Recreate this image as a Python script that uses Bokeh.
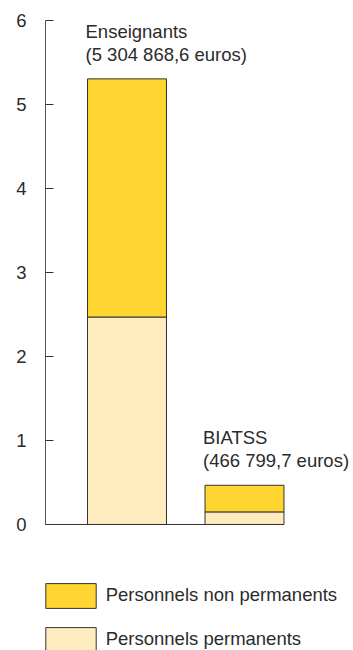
from bokeh.plotting import figure
from bokeh.models import (ColumnDataSource, Range1d, FixedTicker, Legend, LabelSet)
from bokeh.core.properties import value
from bokeh.embed import file_html
from bokeh.resources import INLINE

# Data (millions of euros)
categories = ["Enseignants", "BIATSS"]
amount_labels = ["(5 304 868,6 euros)", "(466 799,7 euros)"]
permanents = [2.47, 0.15]
non_permanents = [2.835, 0.317]
totals = [5.305, 0.467]
y_ticks = [0, 1, 2, 3, 4, 5, 6]

x_pos = [1, 2]
bar_w = 0.672

FONT = "Liberation Sans"
FS = "18.5px"
TXT = "#2b2b2b"
C_NONPERM = "#FFD531"
C_PERM = "#FFECBE"
EDGE = "#333333"

X0 = 0.3064
src = ColumnDataSource(dict(
    x=x_pos,
    left=[v - bar_w / 2 for v in x_pos],
    perm=permanents,
    nonperm=non_permanents,
    total=totals,
    cat=categories,
    amt=amount_labels,
))

p = figure(width=353, height=650, output_backend="svg", toolbar_location=None,
           x_range=Range1d(X0, 2.9277), y_range=Range1d(-1.5, 6.238),
           min_border=0, min_border_left=45, min_border_right=0,
           min_border_top=0, min_border_bottom=0)
p.outline_line_color = None
p.xgrid.visible = False
p.ygrid.visible = False
p.xaxis.visible = False

rs = p.vbar_stack(["perm", "nonperm"], x="x", width=bar_w, source=src,
                  fill_color=[C_PERM, C_NONPERM], line_color=EDGE, line_width=1)

# baseline from the axis to the right edge of the last bar
p.segment(x0=[X0], y0=[0], x1=[x_pos[-1] + bar_w / 2], y1=[0],
          line_color=EDGE, line_width=1)

# y axis
ya = p.yaxis[0]
ya.ticker = FixedTicker(ticks=y_ticks)
ya.bounds = (min(y_ticks), max(y_ticks))
ya.minor_tick_line_color = None
ya.major_tick_in = 8
ya.major_tick_out = 0
ya.major_tick_line_color = EDGE
ya.axis_line_color = "#555555"
ya.major_label_standoff = 19
ya.major_label_text_font = FONT
ya.major_label_text_font_size = FS
ya.major_label_text_color = TXT

# annotations above bars
lab_cat = LabelSet(x="left", y="total", text="cat", source=src, x_offset=-2, y_offset=41,
                   text_font=value(FONT), text_font_size=value(FS), text_color=TXT,
                   text_baseline="alphabetic")
lab_amt = LabelSet(x="left", y="total", text="amt", source=src, x_offset=-2, y_offset=18,
                   text_font=value(FONT), text_font_size=value(FS), text_color=TXT,
                   text_baseline="alphabetic")
p.add_layout(lab_cat)
p.add_layout(lab_amt)

legend = Legend(items=[("Personnels non permanents", [rs[1]]),
                       ("Personnels permanents", [rs[0]])],
                location=(-6.3, -4.9), orientation="vertical",
                glyph_width=63, glyph_height=31, spacing=13, padding=0, margin=0,
                label_standoff=4, border_line_alpha=0, background_fill_alpha=0,
                label_text_font=FONT, label_text_font_size=FS, label_text_color=TXT)
p.add_layout(legend)

open("out.html", "w").write(file_html(p, INLINE))
